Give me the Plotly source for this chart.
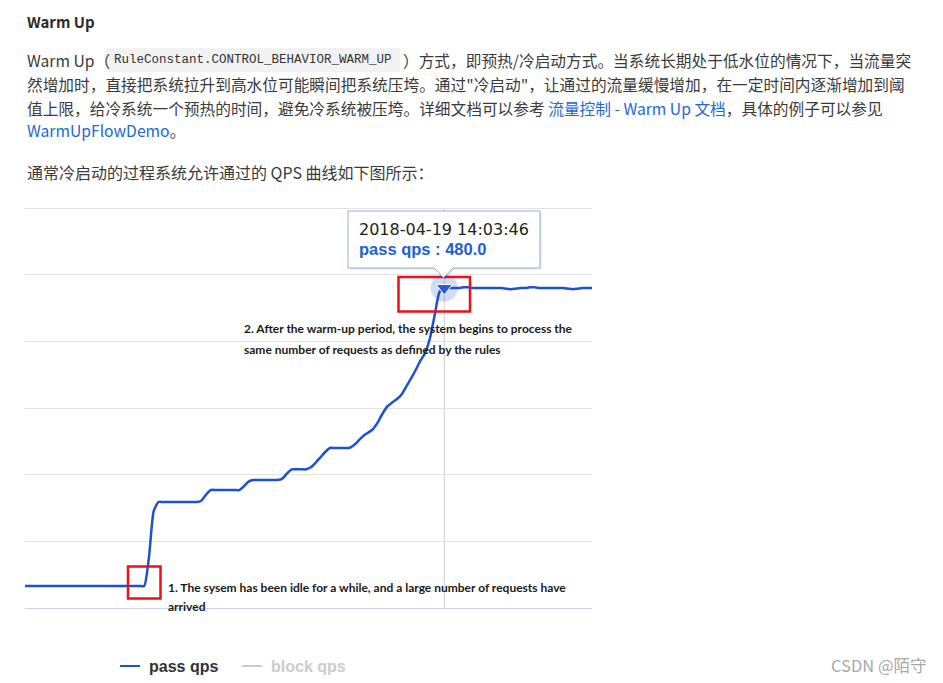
import plotly.graph_objects as go
import pandas as pd

W, H = 943, 683

# ---------------- data ----------------
start_time = "2018-04-19 14:02:18"
pass_qps = [
    33, 33, 33, 33, 33, 33, 33, 33, 33, 33,
    33, 33, 33, 33, 33, 33, 33, 33, 33, 33,
    33, 33, 33, 33, 33, 33, 75, 145, 159, 159,
    159, 159, 159, 159, 159, 159, 159, 161, 170, 177,
    177, 177, 177, 177, 177, 177, 183, 190, 192, 192,
    192, 192, 192, 192, 194, 202, 208, 208, 208, 208,
    211, 218, 226, 234, 240, 240, 240, 240, 240, 244,
    251, 258, 263, 268, 278, 291, 302, 308, 313, 320,
    332, 344, 357, 371, 383, 405, 440, 474, 480, 480,
    480, 480, 481, 481, 480, 480, 480, 480, 480, 480,
    480, 479, 478, 479, 480, 480, 481, 481, 480, 480,
    480, 480, 480, 480, 479, 478, 479, 480, 480, 480,
]
series_names = ["pass qps", "block qps"]
series_colors = ["#1f50d0", "#cccccc"]
legend_text_colors = ["#333333", "#cccccc"]
peak_index = 88
y_ticks = [0, 100, 200, 300, 400, 500, 600]

times = pd.date_range(start_time, periods=len(pass_qps), freq="s")


def px(x):
    return x / W


def py(y):
    return 1 - y / H


fig = go.Figure()

fig.add_trace(go.Scatter(
    x=times, y=pass_qps, mode="lines", name=series_names[0],
    line=dict(color=series_colors[0], width=2.5, shape="spline", smoothing=0.6),
    hoverinfo="x+y", showlegend=False,
))
# hovered point: halo + triangle marker
fig.add_trace(go.Scatter(
    x=[times[peak_index]], y=[pass_qps[peak_index]], mode="markers",
    marker=dict(size=27, color="rgba(40,90,210,0.22)"), showlegend=False,
    hoverinfo="skip",
))
fig.add_trace(go.Scatter(
    x=[times[peak_index]], y=[pass_qps[peak_index]], mode="markers",
    marker=dict(size=14, symbol="triangle-down", color="#2a5bd0",
                line=dict(color="white", width=1)),
    showlegend=False, hoverinfo="skip",
))

shapes = []
# crosshair
shapes.append(dict(type="line", xref="x", yref="y", x0=times[peak_index], x1=times[peak_index],
                   y0=0, y1=600, line=dict(color="#cccccc", width=1), layer="below"))
# red boxes
red = "#e8121b"
shapes.append(dict(type="rect", xref="paper", yref="paper", x0=px(398.5), x1=px(470),
                   y0=py(311.5), y1=py(277), line=dict(color=red, width=2.5)))
shapes.append(dict(type="rect", xref="paper", yref="paper", x0=px(128), x1=px(160.5),
                   y0=py(598.5), y1=py(566.5), line=dict(color=red, width=2.5)))


def tip_path(dx, dy):
    pts = [(348, 211), (540, 211), (540, 268), (453, 268), (443.5, 277.5), (434, 268), (348, 268)]
    return "M" + " L".join(f"{px(x + dx):.5f},{py(y + dy):.5f}" for x, y in pts) + " Z"


shapes.append(dict(type="path", xref="paper", yref="paper", path=tip_path(1.5, 1.5),
                   fillcolor="rgba(0,0,0,0.10)", line=dict(width=0)))
shapes.append(dict(type="path", xref="paper", yref="paper", path=tip_path(0, 0),
                   fillcolor="white", line=dict(color="#8fb0e6", width=1)))
# code background box
shapes.append(dict(type="rect", xref="paper", yref="paper", x0=px(105), x1=px(400),
                   y0=py(72), y1=py(48), fillcolor="#f1f2f3", line=dict(width=0), layer="below"))

TXT = "#3a3a3a"
LINK = "#2168d4"
CJK = "Noto Sans CJK SC"
ann = []


def add(text, x, y, size, color=TXT, family=CJK, weight="normal", xanchor="left"):
    ann.append(dict(text=text, x=px(x), y=py(y), xref="paper", yref="paper",
                    xanchor=xanchor, yanchor="middle", showarrow=False,
                    font=dict(size=size, color=color, family=family, weight=weight)))


FS = 15.7
add("Warm Up", 25, 22, 15, color="#2b2b2b", weight="bold")
add("Warm Up（", 25, 60, FS)
add("RuleConstant.CONTROL_BEHAVIOR_WARM_UP", 112, 60, 12.5, color="#333333", family="Liberation Mono")
add("）方式，即预热/冷启动方式。当系统长期处于低水位的情况下，当流量突", 401, 60, FS)
add("然增加时，直接把系统拉升到高水位可能瞬间把系统压垮。通过\"冷启动\"，让通过的流量缓慢增加，在一定时间内逐渐增加到阈", 25, 84, FS)
add("值上限，给冷系统一个预热的时间，避免冷系统被压垮。详细文档可以参考 "
    f"<span style='color:{LINK}'>流量控制 - Warm Up 文档</span>，具体的例子可以参见", 25, 108, FS)
add(f"<span style='color:{LINK}'>WarmUpFlowDemo</span>。", 25, 131, FS)
add("通常冷启动的过程系统允许通过的 QPS 曲线如下图所示：", 25, 172, 16)

# chart annotations
NOTE = dict(color="#1a1a1a", family="Lato", weight="bold")
add("2. After the warm-up period, the system begins to process the", 242, 328, 12, **NOTE)
add("same number of requests as defined by the rules", 242, 349, 12, **NOTE)
add("1. The sysem has been idle for a while, and a large number of requests have", 166, 587, 12, **NOTE)
add("arrived", 166, 606, 12, **NOTE)

# tooltip text
add(str(times[peak_index]), 357, 230, 16, color="#222222", family="DejaVu Sans")
add(f"{series_names[0]} : {pass_qps[peak_index]:.1f}", 357, 249, 16.5, color="#2260d0",
    family="Liberation Sans", weight="bold")

# legend (drawn)
legend_x = [120, 242]
for i, name in enumerate(series_names):
    shapes.append(dict(type="line", xref="paper", yref="paper", x0=px(legend_x[i]),
                       x1=px(legend_x[i] + 20), y0=py(666), y1=py(666),
                       line=dict(color=series_colors[i], width=2)))
    add(name, legend_x[i] + 27, 666, 16, color=legend_text_colors[i],
        family="Liberation Sans", weight="bold")

# watermark
add("CSDN @陌守", 929, 665, 16.5, color="#a8a8a8", xanchor="right")

fig.update_layout(
    width=W, height=H,
    margin=dict(l=0, r=0, t=0, b=0),
    paper_bgcolor="white", plot_bgcolor="white",
    showlegend=False,
    shapes=shapes,
    annotations=ann,
    xaxis=dict(domain=[px(25), px(592)], range=[times[0], times[-1]],
               showgrid=False, showticklabels=False, zeroline=False,
               showline=True, linecolor="#ccd6eb", linewidth=1, ticks=""),
    yaxis=dict(domain=[py(608), py(201.33)], range=[0, 610], tickvals=y_ticks,
               showgrid=True, gridcolor="#e3e3e3", gridwidth=1,
               showticklabels=False, zeroline=False, showline=False, ticks=""),
)

fig.write_html("out.html")
